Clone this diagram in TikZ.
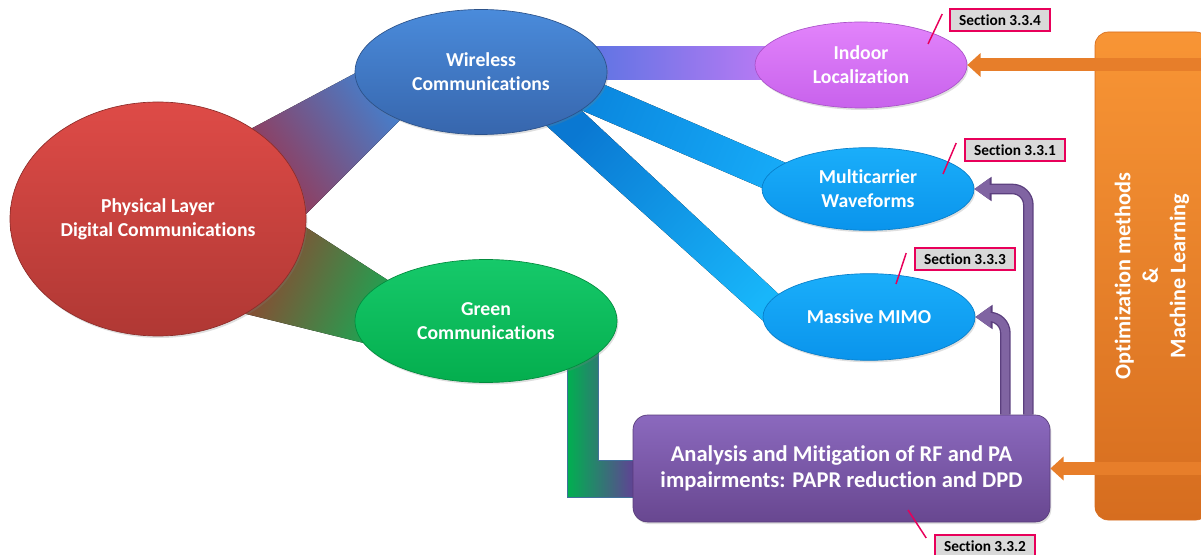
\documentclass[tikz,border=0pt]{standalone}
\usepackage{fontspec}
\setmainfont{Carlito}[Ligatures=NoCommon]
\usetikzlibrary{shapes.geometric,arrows.meta,calc,shadows,backgrounds}

\definecolor{physTop}{HTML}{DE4B47}
\definecolor{physBot}{HTML}{B03834}
\definecolor{wlTop}{HTML}{4A8BDB}
\definecolor{wlBot}{HTML}{3766AD}
\definecolor{locTop}{HTML}{E283FB}
\definecolor{locBot}{HTML}{C862EC}
\definecolor{skyTop}{HTML}{1AAEFA}
\definecolor{skyBot}{HTML}{0A94EC}
\definecolor{grnTop}{HTML}{16C96A}
\definecolor{grnBot}{HTML}{04AE4E}
\definecolor{rfTop}{HTML}{8B69BE}
\definecolor{rfBot}{HTML}{684790}
\definecolor{optTop}{HTML}{F89535}
\definecolor{optBot}{HTML}{D66D1F}
\definecolor{optarrow}{HTML}{E77E2A}
\definecolor{pedge}{HTML}{5B3F7E}
\definecolor{pfill}{HTML}{8064A2}
\definecolor{secpink}{HTML}{E8005A}
\definecolor{secgray}{HTML}{D9D9D9}
\definecolor{bandRed}{HTML}{A12F47}
\definecolor{bandBlue}{HTML}{3D86D8}
\definecolor{bandBrown}{HTML}{9E3A2C}
\definecolor{bandGreen}{HTML}{19A854}
\definecolor{bandIndigo}{HTML}{4E73E0}
\definecolor{bandViolet}{HTML}{C97BF7}
\definecolor{bandSkyA}{HTML}{0A86DE}
\definecolor{bandSkyB}{HTML}{16AAF7}
\definecolor{bandSkyC}{HTML}{0A78D2}
\definecolor{bandSkyD}{HTML}{18B6FA}
\definecolor{lGreen}{HTML}{00B050}
\definecolor{lPurple}{HTML}{7030A0}
\definecolor{lEdge}{HTML}{41719C}

\begin{document}
\begin{tikzpicture}[x=0.75pt,y=0.75pt,yscale=-1,xscale=1,
  bubble/.style={ellipse, inner sep=0pt, align=center, text=white, line width=0.5pt,
    font=\fontsize{14.8}{18}\selectfont\bfseries,
    drop shadow={opacity=0.25, shadow xshift=1pt, shadow yshift=-1.5pt}},
  secbox/.style={draw=secpink, line width=1.2pt, fill=secgray, inner sep=0pt,
    minimum width=75pt, minimum height=16.5pt, font=\fontsize{11.5}{13}\selectfont\bfseries},
  leader/.style={draw=secpink, line width=1.1pt},
  orangearrow/.style={draw=optarrow, line width=9.75pt, -{Triangle[width=17.5pt,length=10pt]}},
  purpleedge/.style={draw=pedge, line width=8pt, rounded corners=12, -{Triangle[width=17.5pt,length=13pt]}},
  purplefill/.style={draw=pfill, line width=6pt, rounded corners=12, -{Triangle[width=15.5pt,length=11.5pt]}}
]
\useasboundingbox (0,0) rectangle (1201,555);
\clip (0,0) rectangle (1201,555);

%Shape: Ellipse
\node[bubble, draw=physBot!80!black, top color=physTop, bottom color=physBot,
  minimum width=222pt, minimum height=175.5pt] (phys) at (158,219) {Physical Layer\\Digital Communications};
%Shape: Ellipse
\node[bubble, draw=wlBot!80!black, top color=wlTop, bottom color=wlBot,
  minimum width=189pt, minimum height=93.75pt] (wl) at (481,72) {Wireless\\Communications};
%Shape: Ellipse
\node[bubble, draw=locBot!85!black, top color=locTop, bottom color=locBot,
  minimum width=159pt, minimum height=64.5pt] (loc) at (861,65) {Indoor\\Localization};
%Shape: Ellipse
\node[bubble, draw=skyBot!85!black, top color=skyTop, bottom color=skyBot,
  minimum width=159pt, minimum height=62pt] (mc) at (868,189) {Multicarrier\\Waveforms};
%Shape: Ellipse
\node[bubble, draw=skyBot!85!black, top color=skyTop, bottom color=skyBot,
  minimum width=159pt, minimum height=65pt] (mimo) at (869,317) {Massive MIMO};
%Shape: Ellipse
\node[bubble, draw=grnBot!80!black, top color=grnTop, bottom color=grnBot,
  minimum width=196.5pt, minimum height=92.25pt] (green) at (486,321) {Green\\Communications};

%Shape: Rounded Rect
\node[rectangle, rounded corners=11pt, inner sep=0pt, align=center, text=white,
  draw=rfBot!85!black, line width=0.5pt, top color=rfTop, bottom color=rfBot,
  font=\fontsize{16.9}{19}\selectfont\bfseries,
  drop shadow={opacity=0.25, shadow xshift=1pt, shadow yshift=-1.5pt},
  minimum width=312.75pt, minimum height=80.25pt] (rf) at (841.5,468.5)
  {Analysis and Mitigation of RF and PA\\impairments: PAPR reduction and DPD};
%Shape: Rounded Rect
\node[rectangle, rounded corners=10pt, inner sep=0pt, align=center, text=white, rotate=90,
  draw=optBot, line width=0.5pt, top color=optTop, bottom color=optBot,
  font=\fontsize{16.7}{20.6}\selectfont\bfseries,
  minimum width=366pt, minimum height=85.5pt] (opt) at (1152,276)
  {Optimization methods\\\&\\Machine Learning};

% Bands
\begin{scope}[on background layer]
\fill[top color=bandBlue, bottom color=bandRed, shading angle=-55]
  ($(phys.center)+(72,-79)$) -- ($(wl.center)+(-101,-12)$) -- ($(wl.center)+(-61,28)$) -- ($(phys.center)+(142,1)$) -- cycle;
\fill[top color=bandBrown, bottom color=bandGreen, shading angle=66]
  ($(phys.center)+(132,-2)$) -- ($(green.center)+(-86,-33)$) -- ($(green.center)+(-86,31)$) -- ($(phys.center)+(72,91)$) -- cycle;
\fill[left color=bandIndigo, right color=bandViolet]
  ($(wl.center)+(79,-25)$) -- ($(loc.center)+(-61,-18)$) -- ($(loc.center)+(-61,15)$) -- ($(wl.center)+(79,8)$) -- cycle;
\fill[top color=bandSkyA, bottom color=bandSkyB, shading angle=67]
  ($(wl.center)+(94,0)$) -- ($(mc.center)+(-68,-20)$) -- ($(mc.center)+(-78,11)$) -- ($(wl.center)+(79,29)$) -- cycle;
\fill[top color=bandSkyC, bottom color=bandSkyD, shading angle=47]
  ($(wl.center)+(84,23)$) -- ($(mimo.center)+(-69,-3)$) -- ($(mimo.center)+(-89,19)$) -- ($(wl.center)+(59,48)$) -- cycle;
\draw[lEdge, line width=0.75pt, left color=lGreen, right color=lPurple]
  ($(green.center)+(112,24)$) |- ($(rf.west)+(12,-8.5)$) -- ($(rf.west)+(12,28.5)$) -| ($(green.center)+(81,24)$) -- cycle;
\end{scope}

% Arrows
\draw[orangearrow] (opt.south |- loc.east) -- (loc.east);
\draw[orangearrow] (opt.south |- rf.east) -- (rf.east);
\draw[purpleedge] ($(rf.north east)+(-22,0)$) |- (mc.east);
\draw[purplefill] ($(rf.north east)+(-22,0)$) |- (mc.east);
\draw[purpleedge] ($(rf.north east)+(-45,0)$) |- (mimo.east);
\draw[purplefill] ($(rf.north east)+(-45,0)$) |- (mimo.east);

% Text Node
\node[secbox] (s334) at (1000,20) {Section 3.3.4};
\node[secbox] (s331) at (1015,150) {Section 3.3.1};
\node[secbox] (s333) at (965,259) {Section 3.3.3};
\node[secbox] (s332) at (985,546) {Section 3.3.2};

\draw[leader] ($(s334.west)+(-7,-6)$) -- ($(loc.center)+(67,-21)$);
\draw[leader] ($(s331.west)+(-8,-7)$) -- ($(mc.center)+(75,-15)$);
\draw[leader] ($(s333.west)+(-8,-6)$) -- ($(mimo.center)+(27,-33)$);
\draw[leader] ($(rf.center)+(66.5,41.5)$) -- ($(s332.west)+(-8,-8)$);

\end{tikzpicture}
\end{document}
